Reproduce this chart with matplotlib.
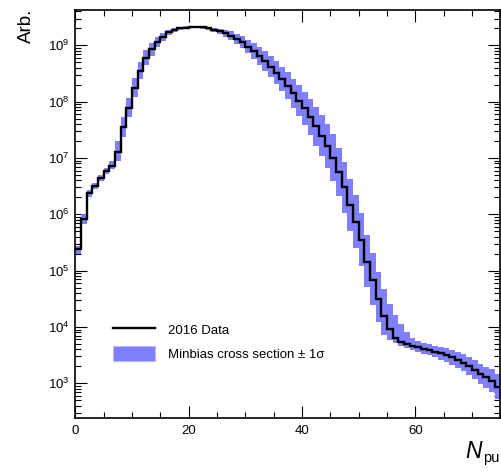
import numpy as np
import matplotlib
matplotlib.use("Agg")
import matplotlib.pyplot as plt
from matplotlib.ticker import LogLocator, FixedLocator, MultipleLocator, LogFormatterMathtext, NullFormatter
from matplotlib.lines import Line2D
from matplotlib.patches import Patch

plt.rcParams['font.family'] = ['Liberation Sans', 'DejaVu Sans']
plt.rcParams['mathtext.fontset'] = 'custom'
plt.rcParams['mathtext.rm'] = 'Liberation Sans'
plt.rcParams['mathtext.it'] = 'Liberation Sans:italic'
plt.rcParams['mathtext.bf'] = 'Liberation Sans:bold'

# ---- data: number of pile-up interactions, 1-wide bins from 0 to 75 ----
bin_edges = list(range(0, 76))
data_2016 = [
    2.40e5, 8.32e5, 2.37e6, 3.20e6, 4.37e6, 5.89e6, 7.24e6, 1.26e7, 3.55e7, 7.85e7,
    1.76e8, 3.55e8, 6.03e8, 8.51e8, 1.15e9, 1.43e9, 1.70e9, 1.86e9, 2.00e9, 2.07e9,
    2.14e9, 2.15e9, 2.13e9, 2.04e9, 1.91e9, 1.78e9, 1.64e9, 1.48e9, 1.32e9, 1.14e9,
    9.55e8, 7.94e8, 6.46e8, 5.25e8, 4.17e8, 3.29e8, 2.54e8, 1.91e8, 1.41e8, 1.05e8,
    7.59e7, 5.43e7, 3.63e7, 2.51e7, 1.66e7, 1.02e7, 5.62e6, 3.02e6, 1.48e6, 7.41e5,
    3.51e5, 1.45e5, 6.84e4, 3.09e4, 1.57e4, 9.12e3, 6.46e3, 5.50e3, 5.01e3, 4.62e3,
    4.37e3, 4.12e3, 3.89e3, 3.63e3, 3.39e3, 3.16e3, 2.88e3, 2.57e3, 2.34e3, 2.00e3,
    1.74e3, 1.46e3, 1.27e3, 1.12e3, 8.71e2,
]
# minbias cross-section +/- 1 sigma band, offsets above / below data in decades
band_up_dex = [
    0.06, 0.08, 0.06, 0.05, 0.05, 0.05, 0.08, 0.20, 0.18, 0.17,
    0.17, 0.15, 0.13, 0.11, 0.09, 0.07, 0.05, 0.04, 0.03, 0.02,
    0.01, 0.01, 0.01, 0.02, 0.03, 0.04, 0.06, 0.08, 0.09, 0.11,
    0.12, 0.14, 0.16, 0.18, 0.19, 0.21, 0.22, 0.24, 0.26, 0.28,
    0.30, 0.32, 0.35, 0.37, 0.39, 0.41, 0.43, 0.45, 0.46, 0.47,
    0.48, 0.48, 0.48, 0.48, 0.47, 0.45, 0.40, 0.32, 0.21, 0.14,
    0.11, 0.10, 0.10, 0.10, 0.11, 0.12, 0.13, 0.14, 0.15, 0.16,
    0.17, 0.18, 0.19, 0.20, 0.22,
]
band_down_dex = [
    0.08, 0.10, 0.06, 0.05, 0.05, 0.05, 0.06, 0.15, 0.17, 0.17,
    0.16, 0.15, 0.13, 0.11, 0.09, 0.07, 0.05, 0.04, 0.03, 0.03,
    0.03, 0.03, 0.03, 0.03, 0.04, 0.05, 0.06, 0.08, 0.09, 0.11,
    0.12, 0.14, 0.16, 0.18, 0.19, 0.21, 0.22, 0.24, 0.26, 0.28,
    0.30, 0.32, 0.35, 0.37, 0.39, 0.41, 0.43, 0.45, 0.46, 0.47,
    0.47, 0.46, 0.44, 0.40, 0.34, 0.20, 0.10, 0.08, 0.08, 0.08,
    0.08, 0.09, 0.09, 0.10, 0.11, 0.12, 0.13, 0.14, 0.15, 0.16,
    0.17, 0.18, 0.19, 0.20, 0.22,
]
x_ticks = [0, 20, 40, 60]
y_ticks = [1e3, 1e4, 1e5, 1e6, 1e7, 1e8, 1e9]
legend_labels = ["2016 Data", "Minbias cross section \u00b1 1\u03c3"]
x_label_main = "N"
x_label_sub = "pu"
y_label = "Arb."

data = np.array(data_2016)
band_hi = data * 10 ** np.array(band_up_dex)
band_lo = data / 10 ** np.array(band_down_dex)

W, H = 502, 471
fig = plt.figure(figsize=(W / 100, H / 100), dpi=100)
ax = fig.add_axes([75.3 / W, 1 - 418.3 / H, (500.3 - 75.3) / W, (418.3 - 10.3) / H])

band_color = '#8080ff'
ax.stairs(band_hi, bin_edges, baseline=band_lo, fill=True, color=band_color, lw=0, zorder=2)
ax.stairs(data, bin_edges, baseline=None, color='black', lw=1.7, zorder=3)

ax.set_yscale('log')
ax.set_xlim(0, 75)
ax.set_ylim(239, 4.2e9)

ax.xaxis.set_major_locator(FixedLocator(x_ticks))
ax.xaxis.set_minor_locator(MultipleLocator(5))
ax.yaxis.set_major_locator(FixedLocator(y_ticks))
ax.yaxis.set_minor_locator(LogLocator(base=10, subs=np.arange(2, 10), numticks=100))
ax.yaxis.set_major_formatter(LogFormatterMathtext())
ax.yaxis.set_minor_formatter(NullFormatter())

ax.tick_params(which='both', direction='in', top=True, right=True, width=0.8, labelsize=9.5)
ax.tick_params(which='major', length=8.5)
ax.tick_params(which='minor', length=4.3)
ax.tick_params(axis='x', pad=5)
ax.tick_params(axis='y', pad=4)
for s in ax.spines.values():
    s.set_linewidth(1.2)

# axis titles (ROOT style, at the ends of the axes)
fig.text(26 / W, 1 - 9 / H, y_label, rotation=90, ha='center', va='top', fontsize=13.5)
fig.text(482 / W, 1 - 458 / H, x_label_main, ha='right', va='baseline', fontsize=16.5, style='italic')
fig.text(483 / W, 1 - 462 / H, x_label_sub, ha='left', va='baseline', fontsize=10.5)

handles = [Line2D([], [], color='black', lw=1.7),
           Patch(facecolor=band_color, edgecolor='#b8b8ff', lw=0.8)]
ax.legend(handles, legend_labels, loc='upper left',
          bbox_to_anchor=(113 / W, 1 - 321.5 / H), bbox_transform=fig.transFigure,
          frameon=False, fontsize=9.5, handlelength=3.2, handleheight=1.4,
          handletextpad=1.0, labelspacing=0.7, borderpad=0, borderaxespad=0)

fig.savefig('out.png', dpi=100)
